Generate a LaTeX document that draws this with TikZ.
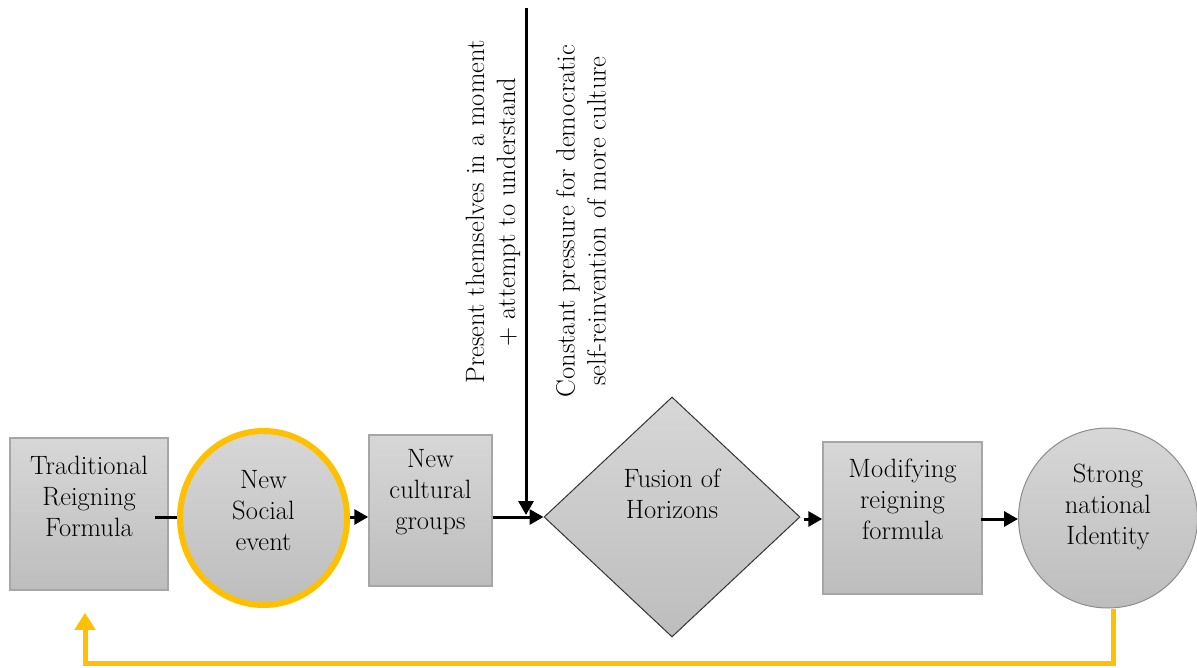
\documentclass[tikz,border=0pt]{standalone}
\usepackage{fontspec}
\usetikzlibrary{shapes.geometric,arrows.meta,calc}
\definecolor{boxtop}{HTML}{D7D7D7}
\definecolor{boxbot}{HTML}{BDBDBD}
\definecolor{boxline}{HTML}{A6A6A6}
\definecolor{gold}{HTML}{FFC000}
\tikzset{
  panel/.style={draw=boxline,line width=1.5pt,top color=boxtop,bottom color=boxbot,inner sep=0pt},
  rectbox/.style={panel,rectangle,minimum width=#1,minimum height=152pt},
  roundbox/.style={panel,ellipse},
  lbl/.style={align=center,font=\fontsize{26.5}{31}\selectfont,inner sep=0pt},
  flow/.style={line width=3pt,-{Triangle[length=14pt,width=15pt]}},
  plainflow/.style={line width=3pt},
  feedback/.style={draw=gold,line width=5pt,-{Triangle[length=17pt,width=20pt]}}
}
\begin{document}
\begin{tikzpicture}[x=1pt,y=-1pt]
\useasboundingbox (0,0) rectangle (1197,668);

% process stages
\node[rectbox=158pt] (b1) at (89,514) {};
\node[lbl] at ($(b1.center)+(0,-18)$) {Traditional\\Reigning\\Formula};

\node[roundbox,draw=gold,line width=6pt,minimum width=167pt,minimum height=174pt] (c1) at (263.5,518) {};
\node[lbl] at ($(c1.center)+(0,-7)$) {New\\Social\\event};

\node[rectbox=123pt,minimum height=151pt] (b2) at (430.5,510.5) {};
\node[lbl] at ($(b2.center)+(0,-18)$) {New\\cultural\\groups};

\node[panel,diamond,draw=black!80,line width=1pt,minimum width=256pt,minimum height=240pt] (d) at (672,517) {};
\node[lbl] at ($(d.center)+(0,-23)$) {Fusion of\\Horizons};

\node[rectbox=159pt] (b4) at (902.5,518) {};
\node[lbl] at ($(b4.center)+(0,-19)$) {Modifying\\reigning\\formula};

\node[roundbox,draw=black!45,line width=1pt,minimum width=179pt,minimum height=180pt] (c2) at (1108,518) {};
\node[lbl] at ($(c2.center)+(0,-11)$) {Strong\\national\\Identity};

% vertical side labels
\node[lbl,rotate=90] (t1) at (493,212) {Present themselves in a moment\\+ attempt to understand};
\node[lbl,rotate=90] (t2) at (581,221) {Constant pressure for democratic\\self-reinvention of more culture};

% connectors
\coordinate (top) at (526,8);
\coordinate (join) at (526,517);
\draw[plainflow] ($(b1.east)+(-14,3)$) -- ($(c1.west)+(0,-1)$);
\draw[flow] ($(c1.east)+(0,-1)$) -- ($(b2.west)+(0,6.5)$);
\draw[flow] ($(b2.east)+(0,6.5)$) -- (d.west);
\draw[flow] (top) -- ($(join)+(0,-2)$);
\draw[flow,shorten <=3pt] ($(d.east)+(0,2)$) -- ($(b4.west)+(0,1)$);
\draw[flow] ($(b4.east)+(-2,1)$) -- ($(c2.west)+(0,1)$);

% feedback loop
\coordinate (fb1) at ($(c2.south)+(5,0)$);
\draw[feedback] (fb1) |- ($(b1.south)+(-4,73)$) -- ($(b1.south)+(-4,22)$);
\end{tikzpicture}
\end{document}
